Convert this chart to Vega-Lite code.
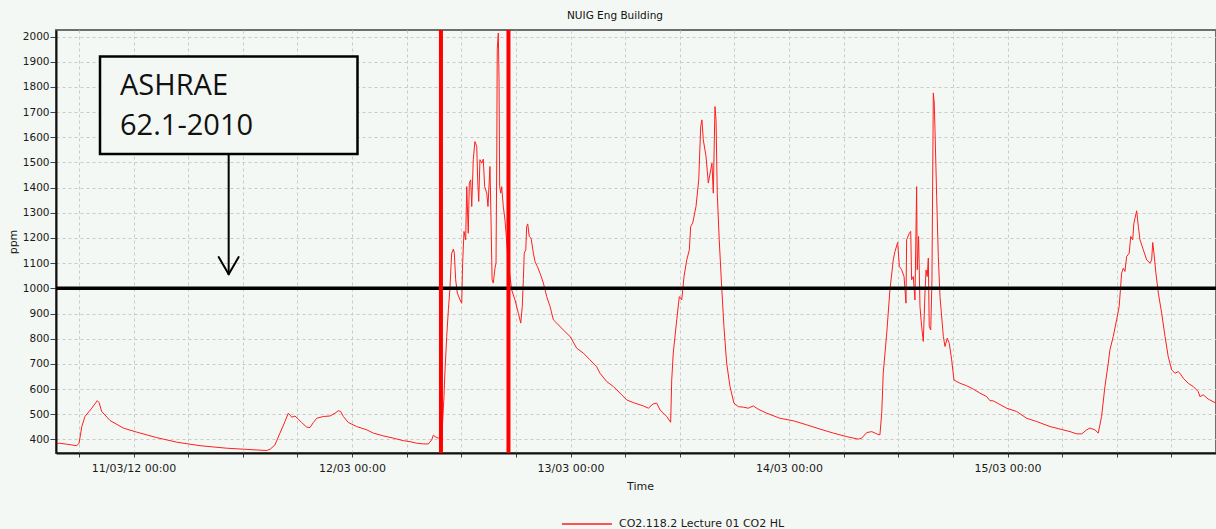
{
  "$schema": "https://vega.github.io/schema/vega-lite/v6.json",
  "width": 1160,
  "height": 423,
  "autosize": {"type": "none"},
  "padding": {"left": 56, "top": 30, "right": 0, "bottom": 76},
  "background": "#f4f8f4",
  "title": {"text": "NUIG Eng Building", "font": "DejaVu Sans", "fontSize": 10.5, "fontWeight": "normal", "color": "#111111", "anchor": "middle", "dx": -21, "offset": 7},
  "config": {
    "font": "DejaVu Sans",
    "view": {"stroke": "#6e6e6e", "strokeWidth": 2},
    "axis": {"labelFont": "DejaVu Sans", "labelFontSize": 11, "labelColor": "#1a1a1a", "titleFont": "DejaVu Sans", "titleFontSize": 11, "titleFontWeight": "normal", "titleColor": "#1a1a1a", "gridColor": "#cacaca", "gridDash": [3, 3], "gridWidth": 1, "domainColor": "#111111", "domainWidth": 2, "tickColor": "#444444", "tickWidth": 1, "labelOverlap": false, "labelSeparation": 0},
    "axisY": {"labelOverlap": false, "labelSeparation": 0}
  },
  "datasets": {
    "co2": [
      {"t":"2012-03-10T15:36:00Z","ppm":383},{"t":"2012-03-10T15:51:00Z","ppm":385},{"t":"2012-03-10T16:40:00Z","ppm":381},{"t":"2012-03-10T17:46:00Z","ppm":375},{"t":"2012-03-10T18:01:00Z","ppm":385},{"t":"2012-03-10T18:19:00Z","ppm":451},{"t":"2012-03-10T18:40:00Z","ppm":491},{"t":"2012-03-10T19:25:00Z","ppm":524},{"t":"2012-03-10T20:01:00Z","ppm":554},{"t":"2012-03-10T20:13:00Z","ppm":546},{"t":"2012-03-10T20:30:00Z","ppm":511},{"t":"2012-03-10T21:25:00Z","ppm":475},{"t":"2012-03-10T22:53:00Z","ppm":445},
      {"t":"2012-03-11T00:21:00Z","ppm":429},{"t":"2012-03-11T02:33:00Z","ppm":407},{"t":"2012-03-11T04:45:00Z","ppm":389},{"t":"2012-03-11T07:18:00Z","ppm":375},{"t":"2012-03-11T10:14:00Z","ppm":365},{"t":"2012-03-11T13:32:00Z","ppm":358},{"t":"2012-03-11T14:38:00Z","ppm":356},{"t":"2012-03-11T15:00:00Z","ppm":361},{"t":"2012-03-11T15:32:00Z","ppm":378},{"t":"2012-03-11T16:05:00Z","ppm":425},{"t":"2012-03-11T16:38:00Z","ppm":471},{"t":"2012-03-11T17:00:00Z","ppm":504},{"t":"2012-03-11T17:23:00Z","ppm":488},{"t":"2012-03-11T17:44:00Z","ppm":493},{"t":"2012-03-11T18:06:00Z","ppm":480},{"t":"2012-03-11T18:28:00Z","ppm":467},{"t":"2012-03-11T19:01:00Z","ppm":449},{"t":"2012-03-11T19:23:00Z","ppm":447},{"t":"2012-03-11T19:45:00Z","ppm":467},{"t":"2012-03-11T20:07:00Z","ppm":484},{"t":"2012-03-11T20:51:00Z","ppm":491},{"t":"2012-03-11T21:35:00Z","ppm":493},{"t":"2012-03-11T22:08:00Z","ppm":504},{"t":"2012-03-11T22:30:00Z","ppm":514},{"t":"2012-03-11T22:45:00Z","ppm":511},{"t":"2012-03-11T23:03:00Z","ppm":491},{"t":"2012-03-11T23:36:00Z","ppm":467},
      {"t":"2012-03-12T00:31:00Z","ppm":451},{"t":"2012-03-12T01:37:00Z","ppm":438},{"t":"2012-03-12T02:20:00Z","ppm":425},{"t":"2012-03-12T03:26:00Z","ppm":414},{"t":"2012-03-12T04:32:00Z","ppm":405},{"t":"2012-03-12T05:38:00Z","ppm":395},{"t":"2012-03-12T06:22:00Z","ppm":391},{"t":"2012-03-12T07:06:00Z","ppm":385},{"t":"2012-03-12T07:50:00Z","ppm":382},{"t":"2012-03-12T08:23:00Z","ppm":382},{"t":"2012-03-12T08:45:00Z","ppm":398},{"t":"2012-03-12T08:56:00Z","ppm":417},{"t":"2012-03-12T09:07:00Z","ppm":411},{"t":"2012-03-12T09:29:00Z","ppm":405},{"t":"2012-03-12T09:51:00Z","ppm":401},{"t":"2012-03-12T10:06:00Z","ppm":570},{"t":"2012-03-12T10:13:00Z","ppm":676},{"t":"2012-03-12T10:24:00Z","ppm":809},{"t":"2012-03-12T10:35:00Z","ppm":915},{"t":"2012-03-12T10:46:00Z","ppm":1007},{"t":"2012-03-12T10:52:00Z","ppm":1087},{"t":"2012-03-12T10:57:00Z","ppm":1140},{"t":"2012-03-12T11:08:00Z","ppm":1156},{"t":"2012-03-12T11:14:00Z","ppm":1140},{"t":"2012-03-12T11:23:00Z","ppm":1034},{"t":"2012-03-12T11:34:00Z","ppm":981},{"t":"2012-03-12T11:52:00Z","ppm":954},{"t":"2012-03-12T12:03:00Z","ppm":941},{"t":"2012-03-12T12:09:00Z","ppm":1100},{"t":"2012-03-12T12:18:00Z","ppm":1226},{"t":"2012-03-12T12:29:00Z","ppm":1193},{"t":"2012-03-12T12:36:00Z","ppm":1404},{"t":"2012-03-12T12:46:00Z","ppm":1219},{"t":"2012-03-12T12:53:00Z","ppm":1418},{"t":"2012-03-12T13:02:00Z","ppm":1431},{"t":"2012-03-12T13:09:00Z","ppm":1325},{"t":"2012-03-12T13:19:00Z","ppm":1511},{"t":"2012-03-12T13:30:00Z","ppm":1583},{"t":"2012-03-12T13:42:00Z","ppm":1563},{"t":"2012-03-12T13:48:00Z","ppm":1431},{"t":"2012-03-12T13:55:00Z","ppm":1345},{"t":"2012-03-12T14:03:00Z","ppm":1511},{"t":"2012-03-12T14:15:00Z","ppm":1497},{"t":"2012-03-12T14:25:00Z","ppm":1513},{"t":"2012-03-12T14:34:00Z","ppm":1404},{"t":"2012-03-12T14:48:00Z","ppm":1378},{"t":"2012-03-12T14:56:00Z","ppm":1325},{"t":"2012-03-12T15:09:00Z","ppm":1484},{"t":"2012-03-12T15:16:00Z","ppm":1272},{"t":"2012-03-12T15:23:00Z","ppm":1034},{"t":"2012-03-12T15:31:00Z","ppm":1021},{"t":"2012-03-12T15:42:00Z","ppm":1080},{"t":"2012-03-12T15:49:00Z","ppm":1100},{"t":"2012-03-12T15:54:00Z","ppm":1537},{"t":"2012-03-12T15:57:00Z","ppm":1948},{"t":"2012-03-12T16:04:00Z","ppm":2014},{"t":"2012-03-12T16:09:00Z","ppm":1828},{"t":"2012-03-12T16:13:00Z","ppm":1404},{"t":"2012-03-12T16:20:00Z","ppm":1378},{"t":"2012-03-12T16:26:00Z","ppm":1404},{"t":"2012-03-12T16:37:00Z","ppm":1325},{"t":"2012-03-12T16:48:00Z","ppm":1272},{"t":"2012-03-12T16:55:00Z","ppm":1219},{"t":"2012-03-12T17:08:00Z","ppm":1113},{"t":"2012-03-12T17:32:00Z","ppm":994},{"t":"2012-03-12T17:54:00Z","ppm":954},{"t":"2012-03-12T18:16:00Z","ppm":901},{"t":"2012-03-12T18:32:00Z","ppm":862},{"t":"2012-03-12T18:42:00Z","ppm":928},{"t":"2012-03-12T18:49:00Z","ppm":1034},{"t":"2012-03-12T18:55:00Z","ppm":1140},{"t":"2012-03-12T19:05:00Z","ppm":1153},{"t":"2012-03-12T19:11:00Z","ppm":1246},{"t":"2012-03-12T19:18:00Z","ppm":1256},{"t":"2012-03-12T19:28:00Z","ppm":1206},{"t":"2012-03-12T19:40:00Z","ppm":1199},{"t":"2012-03-12T19:55:00Z","ppm":1140},{"t":"2012-03-12T20:06:00Z","ppm":1106},{"t":"2012-03-12T20:21:00Z","ppm":1087},{"t":"2012-03-12T20:39:00Z","ppm":1060},{"t":"2012-03-12T21:01:00Z","ppm":1021},{"t":"2012-03-12T21:23:00Z","ppm":967},{"t":"2012-03-12T21:45:00Z","ppm":928},{"t":"2012-03-12T22:07:00Z","ppm":875},{"t":"2012-03-12T22:29:00Z","ppm":862},{"t":"2012-03-12T23:12:00Z","ppm":835},{"t":"2012-03-12T23:57:00Z","ppm":809},
      {"t":"2012-03-13T00:41:00Z","ppm":762},{"t":"2012-03-13T01:24:00Z","ppm":743},{"t":"2012-03-13T02:08:00Z","ppm":716},{"t":"2012-03-13T02:52:00Z","ppm":689},{"t":"2012-03-13T03:14:00Z","ppm":663},{"t":"2012-03-13T03:58:00Z","ppm":630},{"t":"2012-03-13T04:42:00Z","ppm":610},{"t":"2012-03-13T05:26:00Z","ppm":584},{"t":"2012-03-13T06:10:00Z","ppm":557},{"t":"2012-03-13T06:54:00Z","ppm":546},{"t":"2012-03-13T08:00:00Z","ppm":533},{"t":"2012-03-13T08:33:00Z","ppm":524},{"t":"2012-03-13T09:05:00Z","ppm":541},{"t":"2012-03-13T09:28:00Z","ppm":544},{"t":"2012-03-13T09:50:00Z","ppm":517},{"t":"2012-03-13T10:34:00Z","ppm":491},{"t":"2012-03-13T11:00:00Z","ppm":468},{"t":"2012-03-13T11:07:00Z","ppm":636},{"t":"2012-03-13T11:17:00Z","ppm":743},{"t":"2012-03-13T11:40:00Z","ppm":875},{"t":"2012-03-13T11:57:00Z","ppm":967},{"t":"2012-03-13T12:13:00Z","ppm":954},{"t":"2012-03-13T12:28:00Z","ppm":1047},{"t":"2012-03-13T12:46:00Z","ppm":1113},{"t":"2012-03-13T13:03:00Z","ppm":1153},{"t":"2012-03-13T13:12:00Z","ppm":1246},{"t":"2012-03-13T13:25:00Z","ppm":1259},{"t":"2012-03-13T13:47:00Z","ppm":1325},{"t":"2012-03-13T14:05:00Z","ppm":1431},{"t":"2012-03-13T14:18:00Z","ppm":1643},{"t":"2012-03-13T14:26:00Z","ppm":1669},{"t":"2012-03-13T14:35:00Z","ppm":1590},{"t":"2012-03-13T14:53:00Z","ppm":1524},{"t":"2012-03-13T15:08:00Z","ppm":1418},{"t":"2012-03-13T15:24:00Z","ppm":1471},{"t":"2012-03-13T15:32:00Z","ppm":1497},{"t":"2012-03-13T15:41:00Z","ppm":1378},{"t":"2012-03-13T15:52:00Z","ppm":1722},{"t":"2012-03-13T15:59:00Z","ppm":1669},{"t":"2012-03-13T16:07:00Z","ppm":1378},{"t":"2012-03-13T16:20:00Z","ppm":1193},{"t":"2012-03-13T16:36:00Z","ppm":1007},{"t":"2012-03-13T16:51:00Z","ppm":848},{"t":"2012-03-13T17:09:00Z","ppm":703},{"t":"2012-03-13T17:31:00Z","ppm":610},{"t":"2012-03-13T17:57:00Z","ppm":544},{"t":"2012-03-13T18:26:00Z","ppm":530},{"t":"2012-03-13T18:59:00Z","ppm":528},{"t":"2012-03-13T19:32:00Z","ppm":524},{"t":"2012-03-13T20:04:00Z","ppm":533},{"t":"2012-03-13T20:37:00Z","ppm":520},{"t":"2012-03-13T21:33:00Z","ppm":504},{"t":"2012-03-13T23:00:00Z","ppm":484},
      {"t":"2012-03-14T00:28:00Z","ppm":474},{"t":"2012-03-14T01:56:00Z","ppm":458},{"t":"2012-03-14T03:24:00Z","ppm":441},{"t":"2012-03-14T04:52:00Z","ppm":425},{"t":"2012-03-14T06:20:00Z","ppm":411},{"t":"2012-03-14T07:36:00Z","ppm":401},{"t":"2012-03-14T07:59:00Z","ppm":405},{"t":"2012-03-14T08:32:00Z","ppm":427},{"t":"2012-03-14T09:05:00Z","ppm":431},{"t":"2012-03-14T09:38:00Z","ppm":422},{"t":"2012-03-14T09:59:00Z","ppm":418},{"t":"2012-03-14T10:11:00Z","ppm":504},{"t":"2012-03-14T10:21:00Z","ppm":663},{"t":"2012-03-14T10:44:00Z","ppm":822},{"t":"2012-03-14T11:05:00Z","ppm":994},{"t":"2012-03-14T11:27:00Z","ppm":1113},{"t":"2012-03-14T11:38:00Z","ppm":1146},{"t":"2012-03-14T11:56:00Z","ppm":1182},{"t":"2012-03-14T12:07:00Z","ppm":1087},{"t":"2012-03-14T12:22:00Z","ppm":1074},{"t":"2012-03-14T12:38:00Z","ppm":1047},{"t":"2012-03-14T12:51:00Z","ppm":941},{"t":"2012-03-14T12:55:00Z","ppm":1193},{"t":"2012-03-14T13:13:00Z","ppm":1219},{"t":"2012-03-14T13:22:00Z","ppm":1226},{"t":"2012-03-14T13:28:00Z","ppm":1034},{"t":"2012-03-14T13:39:00Z","ppm":1047},{"t":"2012-03-14T13:50:00Z","ppm":954},{"t":"2012-03-14T14:01:00Z","ppm":1404},{"t":"2012-03-14T14:05:00Z","ppm":1074},{"t":"2012-03-14T14:14:00Z","ppm":1206},{"t":"2012-03-14T14:23:00Z","ppm":928},{"t":"2012-03-14T14:34:00Z","ppm":848},{"t":"2012-03-14T14:45:00Z","ppm":789},{"t":"2012-03-14T14:56:00Z","ppm":981},{"t":"2012-03-14T15:03:00Z","ppm":1073},{"t":"2012-03-14T15:11:00Z","ppm":1047},{"t":"2012-03-14T15:18:00Z","ppm":1120},{"t":"2012-03-14T15:24:00Z","ppm":848},{"t":"2012-03-14T15:34:00Z","ppm":835},{"t":"2012-03-14T15:42:00Z","ppm":1034},{"t":"2012-03-14T15:51:00Z","ppm":1776},{"t":"2012-03-14T15:57:00Z","ppm":1736},{"t":"2012-03-14T16:02:00Z","ppm":1630},{"t":"2012-03-14T16:13:00Z","ppm":1365},{"t":"2012-03-14T16:24:00Z","ppm":1126},{"t":"2012-03-14T16:35:00Z","ppm":967},{"t":"2012-03-14T16:57:00Z","ppm":809},{"t":"2012-03-14T17:08:00Z","ppm":769},{"t":"2012-03-14T17:23:00Z","ppm":802},{"t":"2012-03-14T17:36:00Z","ppm":782},{"t":"2012-03-14T17:52:00Z","ppm":716},{"t":"2012-03-14T18:07:00Z","ppm":636},{"t":"2012-03-14T18:47:00Z","ppm":623},{"t":"2012-03-14T19:31:00Z","ppm":613},{"t":"2012-03-14T20:14:00Z","ppm":600},{"t":"2012-03-14T20:58:00Z","ppm":584},{"t":"2012-03-14T21:43:00Z","ppm":570},{"t":"2012-03-14T22:04:00Z","ppm":554},{"t":"2012-03-14T22:26:00Z","ppm":553},{"t":"2012-03-14T23:54:00Z","ppm":524},
      {"t":"2012-03-15T01:00:00Z","ppm":511},{"t":"2012-03-15T02:06:00Z","ppm":484},{"t":"2012-03-15T03:12:00Z","ppm":471},{"t":"2012-03-15T04:40:00Z","ppm":451},{"t":"2012-03-15T05:46:00Z","ppm":441},{"t":"2012-03-15T06:52:00Z","ppm":431},{"t":"2012-03-15T07:36:00Z","ppm":422},{"t":"2012-03-15T08:09:00Z","ppm":422},{"t":"2012-03-15T08:42:00Z","ppm":438},{"t":"2012-03-15T09:03:00Z","ppm":445},{"t":"2012-03-15T09:36:00Z","ppm":438},{"t":"2012-03-15T09:58:00Z","ppm":425},{"t":"2012-03-15T10:20:00Z","ppm":491},{"t":"2012-03-15T10:42:00Z","ppm":610},{"t":"2012-03-15T11:04:00Z","ppm":703},{"t":"2012-03-15T11:15:00Z","ppm":756},{"t":"2012-03-15T11:37:00Z","ppm":809},{"t":"2012-03-15T11:59:00Z","ppm":875},{"t":"2012-03-15T12:16:00Z","ppm":928},{"t":"2012-03-15T12:32:00Z","ppm":1060},{"t":"2012-03-15T12:43:00Z","ppm":1080},{"t":"2012-03-15T12:54:00Z","ppm":1067},{"t":"2012-03-15T13:05:00Z","ppm":1126},{"t":"2012-03-15T13:22:00Z","ppm":1140},{"t":"2012-03-15T13:32:00Z","ppm":1206},{"t":"2012-03-15T13:45:00Z","ppm":1193},{"t":"2012-03-15T13:53:00Z","ppm":1259},{"t":"2012-03-15T14:11:00Z","ppm":1308},{"t":"2012-03-15T14:22:00Z","ppm":1246},{"t":"2012-03-15T14:33:00Z","ppm":1193},{"t":"2012-03-15T14:55:00Z","ppm":1153},{"t":"2012-03-15T15:17:00Z","ppm":1113},{"t":"2012-03-15T15:39:00Z","ppm":1100},{"t":"2012-03-15T15:50:00Z","ppm":1113},{"t":"2012-03-15T15:57:00Z","ppm":1182},{"t":"2012-03-15T16:05:00Z","ppm":1140},{"t":"2012-03-15T16:18:00Z","ppm":1060},{"t":"2012-03-15T16:34:00Z","ppm":981},{"t":"2012-03-15T16:56:00Z","ppm":901},{"t":"2012-03-15T17:18:00Z","ppm":809},{"t":"2012-03-15T17:39:00Z","ppm":729},{"t":"2012-03-15T18:02:00Z","ppm":676},{"t":"2012-03-15T18:24:00Z","ppm":663},{"t":"2012-03-15T18:45:00Z","ppm":669},{"t":"2012-03-15T18:56:00Z","ppm":663},{"t":"2012-03-15T19:18:00Z","ppm":643},{"t":"2012-03-15T19:51:00Z","ppm":623},{"t":"2012-03-15T20:24:00Z","ppm":610},{"t":"2012-03-15T20:57:00Z","ppm":590},{"t":"2012-03-15T21:08:00Z","ppm":570},{"t":"2012-03-15T21:30:00Z","ppm":577},{"t":"2012-03-15T22:03:00Z","ppm":560},{"t":"2012-03-15T22:54:00Z","ppm":544}
    ],
    "threshold": [{"level": 1000}],
    "vlines": [{"t": "2012-03-12T09:46:00Z"}, {"t": "2012-03-12T17:11:00Z"}],
    "note_box": [{"t1": "2012-03-10T20:19:00Z", "t2": "2012-03-12T00:36:00Z", "top": 1921, "bottom": 1534}],
    "note_text": [{"t": "2012-03-10T22:31:00Z", "ppm": 1766, "label": "ASHRAE"}, {"t": "2012-03-10T22:31:00Z", "ppm": 1607, "label": "62.1-2010"}],
    "note_arrow": [
      {"t1": "2012-03-11T10:27:00Z", "p1": 1534, "t2": "2012-03-11T10:27:00Z", "p2": 1058},
      {"t1": "2012-03-11T09:21:00Z", "p1": 1124, "t2": "2012-03-11T10:27:00Z", "p2": 1056},
      {"t1": "2012-03-11T11:33:00Z", "p1": 1124, "t2": "2012-03-11T10:27:00Z", "p2": 1056}
    ]
  },
  "layer": [
    {
      "data": {"name": "co2"},
      "mark": {"type": "line", "strokeWidth": 1, "clip": true},
      "encoding": {
        "x": {
          "field": "t", "type": "temporal",
          "scale": {"type": "utc", "domain": [{"year": 2012, "month": 3, "date": 10, "hours": 15, "minutes": 29, "utc": true}, {"year": 2012, "month": 3, "date": 15, "hours": 22, "minutes": 54, "utc": true}], "nice": false},
          "axis": {
            "title": "Time", "titleX": 584, "titleY": 36, "titleAlign": "center", "titleBaseline": "alphabetic",
            "values": [
              {"year": 2012, "month": 3, "date": 10, "hours": 18, "utc": true},
              {"year": 2012, "month": 3, "date": 11, "hours": 0, "utc": true},
              {"year": 2012, "month": 3, "date": 11, "hours": 6, "utc": true},
              {"year": 2012, "month": 3, "date": 11, "hours": 12, "utc": true},
              {"year": 2012, "month": 3, "date": 11, "hours": 18, "utc": true},
              {"year": 2012, "month": 3, "date": 12, "hours": 0, "utc": true},
              {"year": 2012, "month": 3, "date": 12, "hours": 6, "utc": true},
              {"year": 2012, "month": 3, "date": 12, "hours": 12, "utc": true},
              {"year": 2012, "month": 3, "date": 12, "hours": 18, "utc": true},
              {"year": 2012, "month": 3, "date": 13, "hours": 0, "utc": true},
              {"year": 2012, "month": 3, "date": 13, "hours": 6, "utc": true},
              {"year": 2012, "month": 3, "date": 13, "hours": 12, "utc": true},
              {"year": 2012, "month": 3, "date": 13, "hours": 18, "utc": true},
              {"year": 2012, "month": 3, "date": 14, "hours": 0, "utc": true},
              {"year": 2012, "month": 3, "date": 14, "hours": 6, "utc": true},
              {"year": 2012, "month": 3, "date": 14, "hours": 12, "utc": true},
              {"year": 2012, "month": 3, "date": 14, "hours": 18, "utc": true},
              {"year": 2012, "month": 3, "date": 15, "hours": 0, "utc": true},
              {"year": 2012, "month": 3, "date": 15, "hours": 6, "utc": true},
              {"year": 2012, "month": 3, "date": 15, "hours": 12, "utc": true},
              {"year": 2012, "month": 3, "date": 15, "hours": 18, "utc": true}
            ],
            "labelExpr": "utchours(datum.value) == 0 ? (utcdate(datum.value) == 11 ? utcFormat(datum.value, '%d/%m/%y %H:%M') : utcFormat(datum.value, '%d/%m %H:%M')) : ''",
            "labelOverlap": false, "labelFlush": false, "labelBound": false,
            "tickSize": 4,
            "labelPadding": 5,
            "grid": true
          }
        },
        "y": {
          "field": "ppm", "type": "quantitative",
          "scale": {"domain": [346, 2026], "nice": false, "zero": false},
          "axis": {
            "title": "ppm", "titleX": -40, "titleY": 211.5, "titleAngle": 270, "titleAlign": "center", "titleBaseline": "alphabetic",
            "values": [400, 500, 600, 700, 800, 900, 1000, 1100, 1200, 1300, 1400, 1500, 1600, 1700, 1800, 1900, 2000],
            "tickCount": 17,
            "format": "d", "labelOverlap": false, "labelSeparation": 0, "labelFlush": false, "labelFontSize": 10.5,
            "tickSize": 6, "labelPadding": 1, "grid": true
          }
        },
        "color": {
          "datum": "CO2.118.2 Lecture 01 CO2 HL", "type": "nominal",
          "scale": {"range": ["#ff1e1e"]},
          "legend": {"title": null, "orient": "none", "legendX": 505, "legendY": 468, "symbolType": "stroke", "symbolSize": 2500, "symbolStrokeWidth": 1.6, "labelFont": "DejaVu Sans", "labelFontSize": 11, "labelColor": "#1a1a1a", "labelOffset": 6, "labelLimit": 400, "padding": 0}
        }
      }
    },
    {
      "data": {"name": "threshold"},
      "mark": {"type": "rule", "color": "#000000", "strokeWidth": 3.5},
      "encoding": {"y": {"field": "level", "type": "quantitative"}}
    },
    {
      "data": {"name": "vlines"},
      "mark": {"type": "rule", "color": "#ff0000", "strokeWidth": 4},
      "encoding": {"x": {"field": "t", "type": "temporal"}}
    },
    {
      "data": {"name": "note_box"},
      "mark": {"type": "rect", "fill": "#f4f8f4", "stroke": "#000000", "strokeWidth": 2.5},
      "encoding": {
        "x": {"field": "t1", "type": "temporal"},
        "x2": {"field": "t2"},
        "y": {"field": "top", "type": "quantitative"},
        "y2": {"field": "bottom"}
      }
    },
    {
      "data": {"name": "note_text"},
      "mark": {"type": "text", "font": "Open Sans", "fontSize": 29, "align": "left", "baseline": "alphabetic", "color": "#111111"},
      "encoding": {
        "x": {"field": "t", "type": "temporal"},
        "y": {"field": "ppm", "type": "quantitative"},
        "text": {"field": "label"}
      }
    },
    {
      "data": {"name": "note_arrow"},
      "mark": {"type": "rule", "color": "#000000", "strokeWidth": 2, "strokeCap": "round"},
      "encoding": {
        "x": {"field": "t1", "type": "temporal"},
        "x2": {"field": "t2"},
        "y": {"field": "p1", "type": "quantitative"},
        "y2": {"field": "p2"}
      }
    }
  ]
}
